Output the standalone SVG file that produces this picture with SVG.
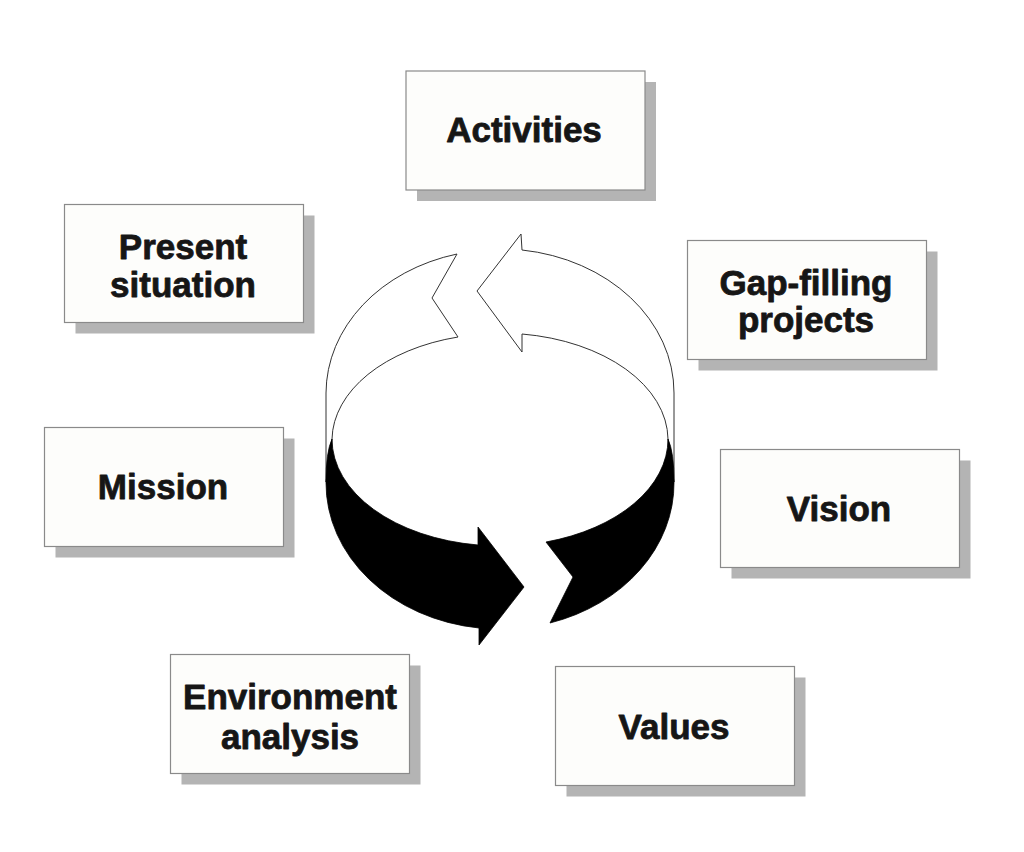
<svg xmlns="http://www.w3.org/2000/svg" width="1024" height="852" viewBox="0 0 1024 852">
<style>
.shadow{fill:#b4b4b4;}
.box{fill:#fdfdfb;stroke:#8a8a8a;stroke-width:1.2;}
.lbl{font-family:"Liberation Sans",Arial,sans-serif;font-weight:bold;font-size:35px;fill:#161616;stroke:#161616;stroke-width:0.8;stroke-linejoin:round;text-anchor:middle;}
.wpiece{fill:#ffffff;stroke:#333333;stroke-width:1;stroke-linejoin:miter;}
.bpiece{fill:#000000;stroke:#000000;stroke-width:0.8;}
</style>
<rect width="1024" height="852" fill="#ffffff"/>
<g id="cycle">
<path class="wpiece" d="M326 482 L326 393 A174 144 0 0 1 457 254 L432 298 L458 337 A168 107 0 0 0 332 439 Z"/>
<path class="wpiece" d="M477 291 L521 234 L522 250 A174 144 0 0 1 674 393 L674 482 L668 439 A168 107 0 0 0 522 334 L522 352 Z"/>
<path class="bpiece" d="M332 439 Q326 452 326 482 A174 146 0 0 0 479 628 L479 645 L524 587 L478 527 L478 545 A168 107 0 0 1 332 439 Z"/>
<path class="bpiece" d="M546 542 L573 577 L550 623 A174 146 0 0 0 674 482 Q674 452 668 439 A168 107 0 0 1 546 542 Z"/>
</g>
<g id="activities">
<rect class="shadow" x="417" y="82" width="239" height="119"/>
<rect class="box" x="406" y="71" width="239" height="119"/>
<text class="lbl" x="524" y="142">Activities</text>
</g>
<g id="present-situation">
<rect class="shadow" x="75.5" y="215.5" width="239" height="118"/>
<rect class="box" x="64.5" y="204.5" width="239" height="118"/>
<text class="lbl" x="183" y="258.5">Present</text>
<text class="lbl" x="183" y="297">situation</text>
</g>
<g id="gap-filling-projects">
<rect class="shadow" x="698.5" y="251.5" width="239" height="119"/>
<rect class="box" x="687.5" y="240.5" width="239" height="119"/>
<text class="lbl" x="806" y="295">Gap-filling</text>
<text class="lbl" x="806" y="332">projects</text>
</g>
<g id="mission">
<rect class="shadow" x="55.5" y="438.5" width="239" height="119"/>
<rect class="box" x="44.5" y="427.5" width="239" height="119"/>
<text class="lbl" x="163" y="499">Mission</text>
</g>
<g id="vision">
<rect class="shadow" x="731.5" y="460.5" width="239" height="118"/>
<rect class="box" x="720.5" y="449.5" width="239" height="118"/>
<text class="lbl" x="839" y="520.5">Vision</text>
</g>
<g id="environment-analysis">
<rect class="shadow" x="181.5" y="665.5" width="239" height="119"/>
<rect class="box" x="170.5" y="654.5" width="239" height="119"/>
<text class="lbl" x="290" y="708.5">Environment</text>
<text class="lbl" x="290" y="748.5">analysis</text>
</g>
<g id="values">
<rect class="shadow" x="566.5" y="677.5" width="239" height="119"/>
<rect class="box" x="555.5" y="666.5" width="239" height="119"/>
<text class="lbl" x="674" y="738.5">Values</text>
</g>
<g id="connectors"></g>
</svg>
